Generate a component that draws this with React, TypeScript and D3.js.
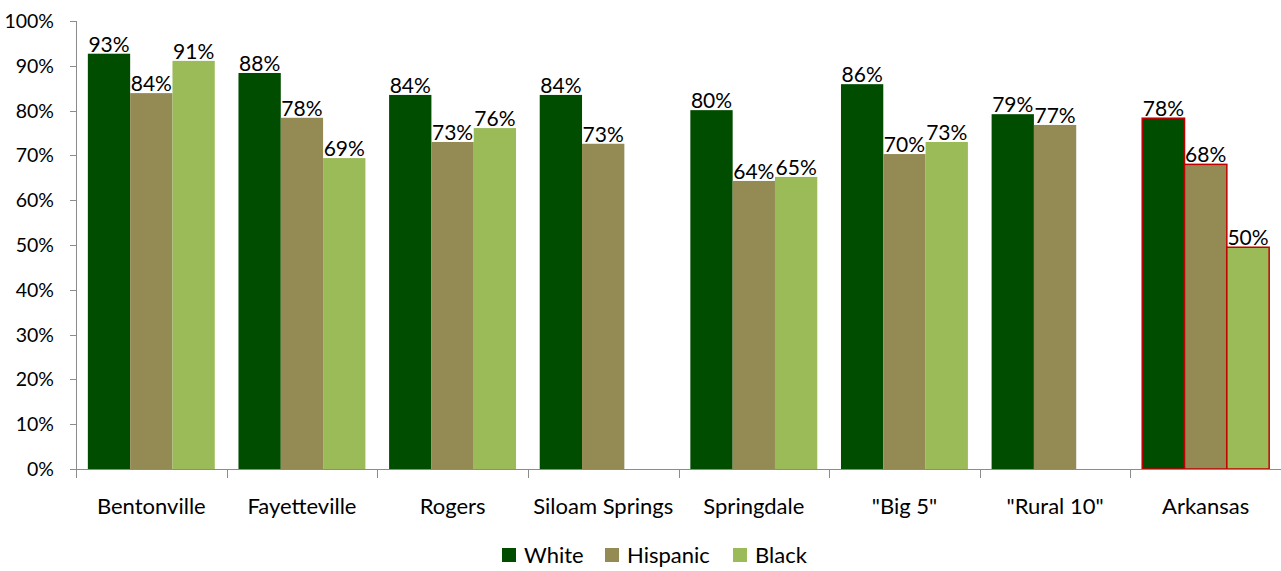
import React from 'react'
import * as d3 from 'd3'

// values (share, %)
const categories = ['Bentonville', 'Fayetteville', 'Rogers', 'Siloam Springs', 'Springdale', '"Big 5"', '"Rural 10"', 'Arkansas']
const series = ['White', 'Hispanic', 'Black']
const white = [92.7, 88.4, 83.5, 83.5, 80.1, 85.9, 79.2, 78.3]
const hispanic = [83.9, 78.4, 73.0, 72.6, 64.3, 70.3, 76.8, 68.0]
const black: (number | null)[] = [91.1, 69.4, 76.1, null, 65.2, 73.0, null, 49.5]
const yTicks = [0, 10, 20, 30, 40, 50, 60, 70, 80, 90, 100]
const colors = ['#004D00', '#948A54', '#9BBB59']

const W = 1281
const H = 571
const margin = { left: 76, right: 0, top: 21, bottom: 102 }
const FONT = 'Lato, "Open Sans", sans-serif'

const App: React.FC = () => {
  const x = d3.scaleBand().domain(categories).range([margin.left, W - margin.right]).padding(0)
  const inner = d3.scaleBand().domain(series).range([0, x.bandwidth()]).paddingOuter(0.28).paddingInner(0)
  const y = d3.scaleLinear().domain([0, 100]).range([H - margin.bottom, margin.top])
  const values = [white, hispanic, black]
  const y0 = y(0)

  return (
    <svg width={W} height={H} style={{ position: 'absolute', left: 0, top: 0 }} fontFamily={FONT}>
      {/* y axis */}
      <line x1={margin.left + 0.5} x2={margin.left + 0.5} y1={y(100)} y2={y0} stroke="#8c8c8c" />
      {yTicks.map((t) => (
        <g key={t}>
          <line x1={70} x2={margin.left} y1={Math.round(y(t)) + 0.5} y2={Math.round(y(t)) + 0.5} stroke="#8c8c8c" />
          <text x={54} y={y(t) + 7} textAnchor="end" fontSize={19.5} fill="#000">{t}%</text>
        </g>
      ))}
      {/* bars */}
      {categories.map((c, i) => (
        <g key={c} transform={`translate(${x(c)},0)`}>
          {series.map((s, j) => {
            const v = values[j][i]
            if (v == null) return null
            const red = c === 'Arkansas'
            return (
              <g key={s}>
                <rect
                  x={inner(s)!}
                  y={y(v)}
                  width={inner.bandwidth()}
                  height={y0 - y(v)}
                  fill={colors[j]}
                  stroke={red ? '#C00000' : 'none'}
                  strokeWidth={red ? 1.5 : 0}
                />
                <text x={inner(s)! + inner.bandwidth() / 2} y={y(v) - 2} textAnchor="middle" fontSize={21} fill="#000">
                  {Math.round(v)}%
                </text>
              </g>
            )
          })}
          <text x={x.bandwidth() / 2} y={514} textAnchor="middle" fontSize={22} fill="#000">{c}</text>
        </g>
      ))}
      {/* x axis */}
      <line x1={margin.left} x2={W} y1={Math.round(y0) + 0.5} y2={Math.round(y0) + 0.5} stroke="#8c8c8c" />
      {categories.map((c) => (
        <line key={c} x1={Math.round(x(c)!) + 0.5} x2={Math.round(x(c)!) + 0.5} y1={y0} y2={y0 + 9} stroke="#8c8c8c" />
      ))}
      {/* legend */}
      {series.map((s, j) => {
        const lx = [502, 605, 733][j]
        return (
          <g key={s}>
            <rect x={lx} y={548} width={14} height={14} fill={colors[j]} />
            <text x={lx + 22} y={563} fontSize={22} fill="#000">{s}</text>
          </g>
        )
      })}
    </svg>
  )
}

export default App
